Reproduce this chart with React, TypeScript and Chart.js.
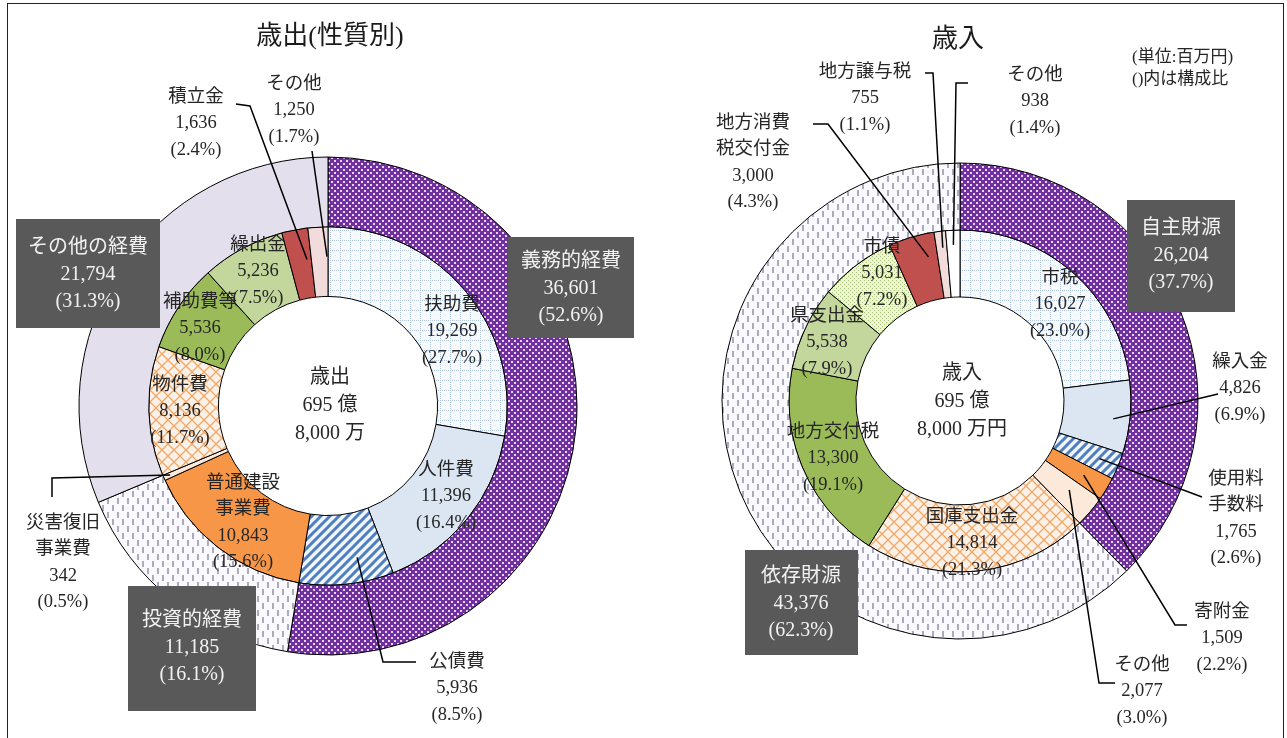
import React, { useEffect, useRef } from 'react';
import { Chart, registerables } from 'chart.js';
Chart.register(...registerables);

// ---------- DATA (歳出 性質別) ----------
const expTitle = '歳出(性質別)';
const expCenterName = '歳出';
const expGroups = ['義務的経費', '投資的経費', 'その他の経費'];
const expGroupValues = [36601, 11185, 21794];
const expGroupPct = [52.6, 16.1, 31.3];
const expItems = ['扶助費', '人件費', '公債費', '普通建設\n事業費', '災害復旧\n事業費', '物件費', '補助費等', '繰出金', '積立金', 'その他'];
const expValues = [19269, 11396, 5936, 10843, 342, 8136, 5536, 5236, 1636, 1250];
const expPct = [27.7, 16.4, 8.5, 15.6, 0.5, 11.7, 8.0, 7.5, 2.4, 1.7];

// ---------- DATA (歳入) ----------
const revTitle = '歳入';
const revCenterName = '歳入';
const revGroups = ['自主財源', '依存財源'];
const revGroupValues = [26204, 43376];
const revGroupPct = [37.7, 62.3];
const revItems = ['市税', '繰入金', '使用料\n手数料', '寄附金', 'その他', '国庫支出金', '地方交付税', '県支出金', '市債', '地方消費\n税交付金', '地方譲与税', 'その他'];
const revValues = [16027, 4826, 1765, 1509, 2077, 14814, 13300, 5538, 5031, 3000, 755, 938];
const revPct = [23.0, 6.9, 2.6, 2.2, 3.0, 21.3, 19.1, 7.9, 7.2, 4.3, 1.1, 1.4];
const unitNote = ['(単位:百万円)', '()内は構成比'];

// ---------- STYLE / LAYOUT ----------
const FONT = "'Liberation Serif', 'Noto Sans CJK JP', serif";
const W = 1287;
const H = 738;

type Leader = { pts: number[][]; t: number; f: number };
type LabelPos = { x: number; y: number; leader?: Leader };
type BoxPos = { rect: number[]; x: number; y: number };

const expLayout = {
  center: [328, 406], radius: 249, cutout: '44%',
  title: [2, -369], centerY: -28,
  items: [
    { x: 124, y: -101 },
    { x: 118, y: 64 },
    { x: 129, y: 256, leader: { pts: [[88, 256], [55, 256]], t: 0.34, f: 0.64 } },
    { x: -85, y: 77 },
    { x: -265, y: 117, leader: { pts: [[-276, 91], [-276, 72]], t: 0.5, f: 0.9 } },
    { x: -148, y: -21 },
    { x: -128, y: -104 },
    { x: -70, y: -161 },
    { x: -132, y: -309, leader: { pts: [[-92, -302], [-78, -300]], t: 0.8, f: 0.55 } },
    { x: -34, y: -322, leader: { pts: [[-16, -255]], t: 0.94, f: 0.57 } },
  ] as LabelPos[],
  boxes: [
    { rect: [180, -169, 126, 101], x: 243, y: -144 },
    { rect: [-200, 180, 128, 125], x: -136, y: 215 },
    { rect: [-312, -187, 144, 109], x: -240, y: -158 },
  ] as BoxPos[],
};

const revLayout = {
  center: [960, 401], radius: 238, cutout: '43.7%',
  title: [-2, -361], centerY: -27,
  items: [
    { x: 100, y: -123 },
    { x: 280, y: -39, leader: { pts: [[258, -7]], t: 0.55, f: 0.75 } },
    { x: 276, y: 78, leader: { pts: [[242, 96]], t: 0.5, f: 0.7 } },
    { x: 262, y: 211, leader: { pts: [[227, 224], [215, 224]], t: 0.5, f: 0.6 } },
    { x: 182, y: 264, leader: { pts: [[155, 282], [139, 282]], t: 0.4, f: 0.55 } },
    { x: 12, y: 116 },
    { x: -127, y: 31 },
    { x: -133, y: -85 },
    { x: -78, y: -154 },
    { x: -207, y: -278, leader: { pts: [[-147, -277], [-132, -277]], t: 0.77, f: 0.65 } },
    { x: -95, y: -329, leader: { pts: [[-35, -328], [-27, -328]], t: 0.6, f: 0.75 } },
    { x: 75, y: -326, leader: { pts: [[8, -318], [-4, -318]], t: 0.5, f: 0.78 } },
  ] as LabelPos[],
  boxes: [
    { rect: [167, -201, 108, 112], x: 221, y: -172 },
    { rect: [-215, 149, 113, 105], x: -159, y: 176 },
  ] as BoxPos[],
  note: [172, -343],
};

// ---------- PATTERNS ----------
function makePattern(kind: string): CanvasPattern | string {
  const c = document.createElement('canvas');
  const g = c.getContext('2d');
  if (!g) return '#ccc';
  const fill = (col: string, x: number, y: number, w: number, h: number) => { g.fillStyle = col; g.fillRect(x, y, w, h); };
  if (kind === 'purple') {
    c.width = 6; c.height = 6;
    fill('#7030A0', 0, 0, 6, 6);
    fill('#E4D4F2', 1, 1, 2, 2);
    fill('#E4D4F2', 4, 4, 2, 2);
  } else if (kind === 'grid') {
    c.width = 10; c.height = 10;
    fill('#F7FAFD', 0, 0, 10, 10);
    for (let i = 0; i < 10; i += 2) {
      fill('#B3C6E0', 0, i, 1, 1);
      fill('#B3C6E0', i, 0, 1, 1);
    }
    fill('#DCE6F2', 5, 5, 1, 1);
  } else if (kind === 'stripes') {
    c.width = 9; c.height = 9;
    fill('#F1F6FC', 0, 0, 9, 9);
    g.strokeStyle = '#4F7FBE';
    g.lineWidth = 3;
    g.beginPath();
    for (const o of [-9, 0, 9]) {
      g.moveTo(-2 + o, 11);
      g.lineTo(11 + o, -2);
    }
    g.stroke();
  } else if (kind === 'lattice') {
    c.width = 12; c.height = 12;
    fill('#FDF1E6', 0, 0, 12, 12);
    g.strokeStyle = '#EFA767';
    g.lineWidth = 1.3;
    g.beginPath();
    g.moveTo(0, 0); g.lineTo(12, 12);
    g.moveTo(12, 0); g.lineTo(0, 12);
    g.stroke();
    fill('#E6EEF8', 5, 0, 2, 1);
    fill('#E6EEF8', 0, 5, 1, 2);
  } else if (kind === 'dashes') {
    c.width = 10; c.height = 14;
    fill('#FAF9FD', 0, 0, 10, 14);
    fill('#ABABBD', 2, 1, 2, 6);
    fill('#ABABBD', 7, 8, 2, 6);
  } else if (kind === 'greenDots') {
    c.width = 4; c.height = 4;
    fill('#EEF3E1', 0, 0, 4, 4);
    fill('#A9C46C', 0, 0, 1, 1);
    fill('#A9C46C', 2, 2, 1, 1);
  }
  return g.createPattern(c, 'repeat') || '#ccc';
}

// ---------- HELPERS ----------
const fmt = (v: number) => v.toLocaleString('en-US');
const pctText = (p: number) => `(${p.toFixed(1)}%)`;

function oku(total: number) {
  // total in 百万円
  const o = Math.floor(total / 100);
  const man = (total % 100) * 100;
  return [`${o} 億`, `${fmt(man)} 万`];
}

function annotPlugin(opts: any) {
  return {
    id: 'annot',
    afterDatasetsDraw(chart: any) {
      const ctx: CanvasRenderingContext2D = chart.ctx;
      const inner = chart.getDatasetMeta(1).data as any[];
      const cx = inner[0].x;
      const cy = inner[0].y;
      const L = opts.layout;
      ctx.save();
      ctx.textAlign = 'center';
      ctx.textBaseline = 'middle';

      // leaders
      ctx.strokeStyle = '#000';
      ctx.lineWidth = 1.5;
      L.items.forEach((p: LabelPos, i: number) => {
        if (!p.leader) return;
        const a = inner[i];
        const ang = a.startAngle + (a.endAngle - a.startAngle) * p.leader.t;
        const r = a.innerRadius + (a.outerRadius - a.innerRadius) * p.leader.f;
        ctx.beginPath();
        p.leader.pts.forEach((q, k) => {
          if (k === 0) ctx.moveTo(cx + q[0], cy + q[1]);
          else ctx.lineTo(cx + q[0], cy + q[1]);
        });
        ctx.lineTo(cx + r * Math.cos(ang), cy + r * Math.sin(ang));
        ctx.stroke();
      });

      // item labels
      ctx.fillStyle = '#262626';
      ctx.font = `18.5px ${FONT}`;
      L.items.forEach((p: LabelPos, i: number) => {
        const lines = [...opts.items[i].split('\n'), fmt(opts.values[i]), pctText(opts.pct[i])];
        lines.forEach((s: string, k: number) => ctx.fillText(s, cx + p.x, cy + p.y + k * 26.5));
      });

      // group boxes
      L.boxes.forEach((b: BoxPos, i: number) => {
        ctx.fillStyle = '#595959';
        ctx.fillRect(cx + b.rect[0], cy + b.rect[1], b.rect[2], b.rect[3]);
        ctx.fillStyle = '#F2F2F2';
        ctx.font = `20px ${FONT}`;
        const lines = [opts.groups[i], fmt(opts.groupValues[i]), pctText(opts.groupPct[i])];
        lines.forEach((s: string, k: number) => ctx.fillText(s, cx + b.x, cy + b.y + k * 27));
      });

      // center text
      ctx.fillStyle = '#262626';
      ctx.font = `20px ${FONT}`;
      const total = opts.values.reduce((s: number, v: number) => s + v, 0);
      const ok = oku(total);
      const centerLines = [opts.centerName, ok[0], ok[1] + (opts.yen ? '円' : '')];
      centerLines.forEach((s, k) => ctx.fillText(s, cx + 2, cy + L.centerY + k * 28));

      // title
      ctx.font = `26px ${FONT}`;
      ctx.fillStyle = '#1a1a1a';
      ctx.fillText(opts.title, cx + L.title[0], cy + L.title[1]);

      // note
      if (opts.note && L.note) {
        ctx.font = `17px ${FONT}`;
        ctx.textAlign = 'left';
        ctx.fillStyle = '#262626';
        opts.note.forEach((s: string, k: number) => ctx.fillText(s, cx + L.note[0], cy + L.note[1] + k * 22));
      }
      ctx.restore();
    },
  };
}

function buildChart(canvas: HTMLCanvasElement, opts: any) {
  const L = opts.layout;
  const cx = L.center[0];
  const cy = L.center[1];
  const half = Math.min(cx, W - cx);
  const halfY = Math.min(cy, H - cy);
  const padding = {
    left: cx - half,
    right: W - (cx + half),
    top: cy - halfY,
    bottom: H - (cy + halfY),
  };
  return new Chart(canvas, {
    type: 'doughnut',
    data: {
      labels: opts.items,
      datasets: [
        {
          data: opts.groupValues,
          backgroundColor: opts.groupColors,
          borderColor: '#000',
          borderWidth: 1,
        },
        {
          data: opts.values,
          backgroundColor: opts.itemColors,
          borderColor: '#000',
          borderWidth: 1,
        },
      ],
    },
    options: {
      responsive: false,
      animation: false,
      events: [],
      radius: L.radius,
      cutout: L.cutout,
      layout: { padding },
      plugins: { legend: { display: false }, tooltip: { enabled: false } },
    } as any,
    plugins: [annotPlugin(opts)],
  });
}

export default function App() {
  const leftRef = useRef<HTMLCanvasElement>(null);
  const rightRef = useRef<HTMLCanvasElement>(null);
  useEffect(() => {
    const P = {
      purple: makePattern('purple'),
      grid: makePattern('grid'),
      stripes: makePattern('stripes'),
      lattice: makePattern('lattice'),
      dashes: makePattern('dashes'),
      greenDots: makePattern('greenDots'),
    };
    const left = buildChart(leftRef.current as HTMLCanvasElement, {
      title: expTitle, centerName: expCenterName, yen: false,
      groups: expGroups, groupValues: expGroupValues, groupPct: expGroupPct,
      items: expItems, values: expValues, pct: expPct,
      groupColors: [P.purple, P.dashes, '#E4DFEC'],
      itemColors: [P.grid, '#DCE6F2', P.stripes, '#F79646', '#FDE9D9', P.lattice, '#9BBB59', '#C3D69B', '#C0504D', '#F2DCDB'],
      layout: expLayout,
    });
    const right = buildChart(rightRef.current as HTMLCanvasElement, {
      title: revTitle, centerName: revCenterName, yen: true,
      groups: revGroups, groupValues: revGroupValues, groupPct: revGroupPct,
      items: revItems, values: revValues, pct: revPct, note: unitNote,
      groupColors: [P.purple, P.dashes],
      itemColors: [P.grid, '#DCE6F2', P.stripes, '#F79646', '#FDE9D9', P.lattice, '#9BBB59', '#C3D69B', P.greenDots, '#C0504D', '#F2DCDB', '#FFFFFF'],
      layout: revLayout,
    });
    return () => {
      left.destroy();
      right.destroy();
    };
  }, []);
  return (
    <div style={{ position: 'fixed', left: 0, top: 0, width: W, height: H, background: '#fff', overflow: 'hidden' }}>
      <div style={{ position: 'absolute', left: 7, top: 3, width: 1277, height: 800, border: '1.5px solid #222', boxSizing: 'border-box' }} />
      <canvas ref={leftRef} width={W} height={H} style={{ position: 'absolute', left: 0, top: 0 }} />
      <canvas ref={rightRef} width={W} height={H} style={{ position: 'absolute', left: 0, top: 0 }} />
    </div>
  );
}
